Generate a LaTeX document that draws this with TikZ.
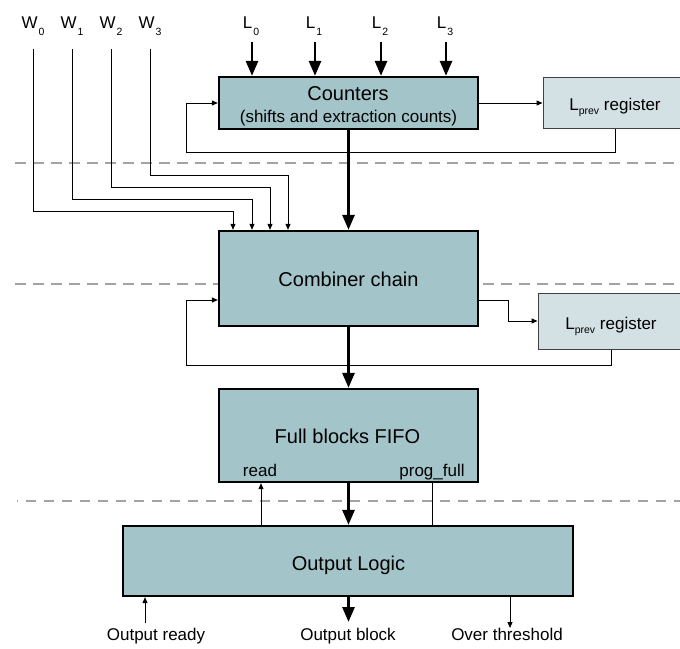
\documentclass[tikz,border=0pt]{standalone}
\usepackage{fontspec}
\setmainfont{Liberation Sans}
\usetikzlibrary{arrows.meta}

\definecolor{boxfill}{HTML}{A3C4C8}
\definecolor{regfill}{HTML}{D3E1E4}
\definecolor{regdraw}{HTML}{404040}
\definecolor{sepgray}{HTML}{A3A3A3}

% lowered small index, as in W_0 or L_prev
\newcommand\idx[1]{\kern1pt\raisebox{-7pt}{\fontsize{10.5}{10.5}\selectfont #1}}
\newcommand\idxp[1]{\raisebox{-4.5pt}{\fontsize{10.5}{10.5}\selectfont #1}}

\tikzset{
  blk/.style={draw=black, line width=2.3pt, fill=boxfill, inner sep=0pt},
  reg/.style={draw=regdraw, line width=1pt, fill=regfill, inner sep=0pt},
  sig/.style={line width=1pt, -{Triangle[length=6pt,width=5pt]}},
  wire/.style={line width=1pt},
  bus/.style={line width=2.8pt, -{Triangle[length=15pt,width=12pt]}},
  sep/.style={draw=sepgray, line width=2.4pt, dash pattern=on 11pt off 7pt},
  ttl/.style={font=\fontsize{20}{24}\selectfont, anchor=base, inner sep=0pt},
  lbl/.style={font=\fontsize{17}{20}\selectfont, anchor=base, inner sep=0pt},
}

\begin{document}
\begin{tikzpicture}[x=1pt, y=-1pt]
\fill[white] (0,0) rectangle (680,648);
\useasboundingbox (0,0) rectangle (680,648);

% pipeline stage separators
\draw[sep] (15,163) -- (680,163);
\draw[sep] (15,284) -- (680,284);
\draw[sep, dash pattern=on 10pt off 8pt, dash phase=9pt] (17,501) -- (680,501);

% blocks
\node[blk, minimum width=259pt, minimum height=52pt] (cnt) at (348.5,103) {};
\node[blk, minimum width=259pt, minimum height=95pt] (comb) at (348.5,278.5) {};
\node[blk, minimum width=259pt, minimum height=93pt] (fifo) at (348.5,435.5) {};
\node[blk, minimum width=450pt, minimum height=70pt] (out) at (348,561) {};
\node[reg, minimum width=160pt, minimum height=51.5pt] (lp1) at (623,102.75) {};
\node[reg, minimum width=160pt, minimum height=56pt] (lp2) at (618,321) {};

% block texts
\node[ttl] (tcnt) at (348,100.5) {Counters};
\node[lbl] (tcnts) at (348.5,122) {(shifts and extraction counts)};
\node[ttl] (tcomb) at (348.5,286) {Combiner chain};
\node[ttl] (tfifo) at (347.5,443) {Full blocks FIFO};
\node[lbl] (tread) at (260,476) {read};
\node[lbl] (tpf) at (432,476) {prog\_full};
\node[ttl] (tout) at (348.5,570) {Output Logic};
\node[lbl] (tlp1) at (615,110) {L\idxp{prev} register};
\node[lbl] (tlp2) at (611,329) {L\idxp{prev} register};

% input labels
\node[lbl] (w0) at (33,28.5) {W\idx{0}};
\node[lbl] (w1) at (72,28.5) {W\idx{1}};
\node[lbl] (w2) at (111,28.5) {W\idx{2}};
\node[lbl] (w3) at (150,28.5) {W\idx{3}};
\node[lbl] (l0) at (251,28) {L\idx{0}};
\node[lbl] (l1) at (314,28) {L\idx{1}};
\node[lbl] (l2) at (380,28) {L\idx{2}};
\node[lbl] (l3) at (445,28) {L\idx{3}};

% output labels
\node[lbl] (oready) at (156,640) {Output ready};
\node[lbl] (oblock) at (348,640) {Output block};
\node[lbl] (othr) at (507,640) {Over threshold};

% routing points
\coordinate (wt0) at (33,49);   \coordinate (wk0) at (233,211);
\coordinate (wt1) at (72,49);   \coordinate (wk1) at (252,199);
\coordinate (wt2) at (111,49);  \coordinate (wk2) at (270,187);
\coordinate (wt3) at (150,49);  \coordinate (wk3) at (288,175);
\coordinate (lt0) at (252,42);  \coordinate (lt1) at (315,42);
\coordinate (lt2) at (381,42);  \coordinate (lt3) at (446,42);
\coordinate (fb1) at (615,0);   \coordinate (fbl1) at (186,152);
\coordinate (fb2) at (611,0);   \coordinate (fbl2) at (186,365);
\coordinate (r300) at (0,300);  \coordinate (jog2) at (508,321);
\coordinate (rdx) at (261,0);   \coordinate (pfx) at (432,0);
\coordinate (ordy) at (145,623); \coordinate (oblk) at (348.5,622);
\coordinate (othx) at (510,628);

% L inputs into the counters
\foreach \i in {0,...,3}
  \draw[bus] (lt\i) -- (lt\i |- cnt.north);

% W inputs into the combiner chain
\foreach \i in {0,...,3}
  \draw[sig] (wt\i) |- (wk\i) -- (wk\i |- comb.north);

% counters and their previous-length register
\draw[sig] (cnt.east) -- (cnt.east -| lp1.west);
\draw[sig] (lp1.south -| fb1) |- (fbl1) |- (cnt.west);

% combiner chain and its previous-length register
\draw[sig] (comb.east |- r300) -| (jog2) -- (lp2.west);
\draw[sig] (lp2.south -| fb2) |- (fbl2) |- (comb.west |- r300);

% data path
\draw[bus] (cnt.south) -- (comb.north);
\draw[bus] (comb.south) -- (fifo.north);
\draw[bus] (fifo.south) -- (fifo.south |- out.north);

% FIFO handshake
\draw[sig] (out.north -| rdx) -- (fifo.south -| rdx);
\draw[wire] (fifo.south -| pfx) -- (out.north -| pfx);

% outputs
\draw[sig] (ordy) -- (ordy |- out.south);
\draw[bus] (out.south -| oblk) -- (oblk);
\draw[sig] (out.south -| othx) -- (othx);
\end{tikzpicture}
\end{document}
